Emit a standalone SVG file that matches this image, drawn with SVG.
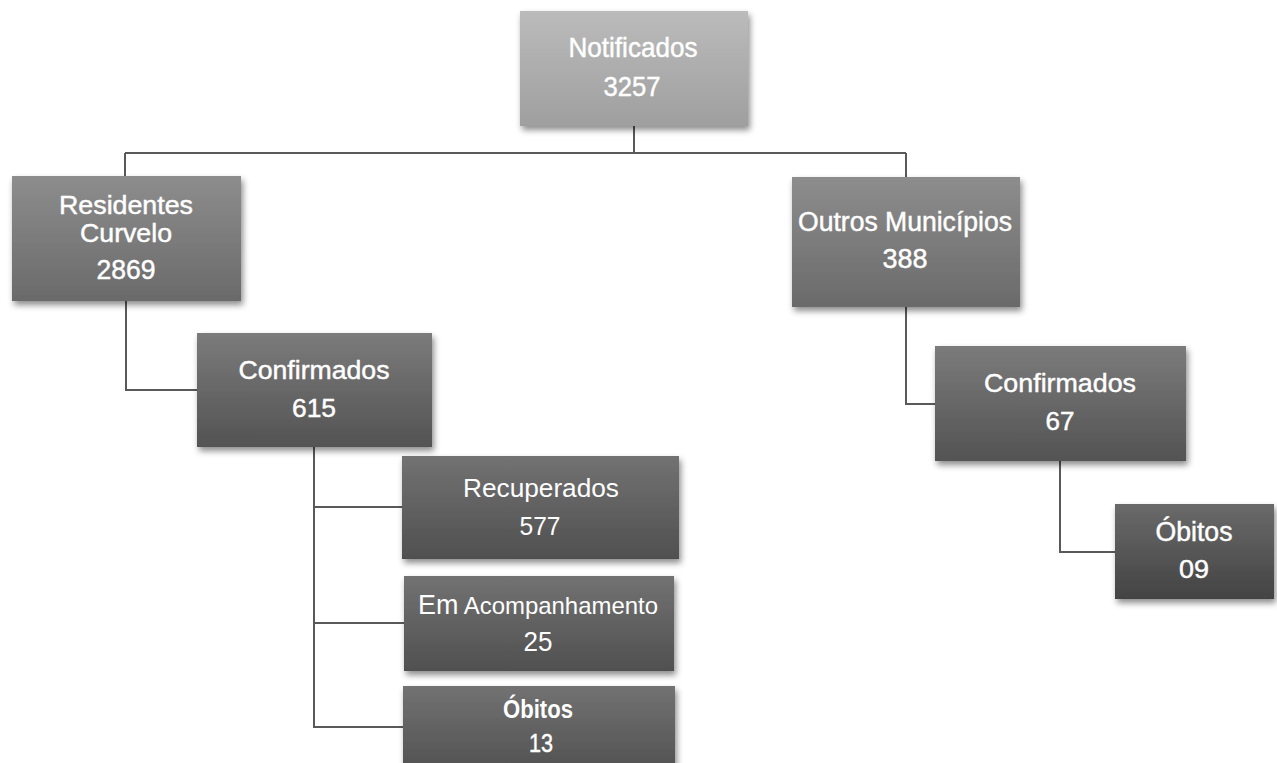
<svg xmlns="http://www.w3.org/2000/svg" width="1277" height="763" viewBox="0 0 1277 763">
<style>
.t{font-family:"Liberation Sans",Arial,sans-serif;fill:#ffffff;text-anchor:middle;}
.m{stroke:#ffffff;stroke-width:0.45;}
.conn{fill:none;stroke:#595959;stroke-width:2;}
.box{filter:url(#sh);}
</style>
<defs>
<filter id="sh" x="-10%" y="-10%" width="125%" height="135%">
<feDropShadow dx="2" dy="4" stdDeviation="3" flood-color="#000" flood-opacity="0.45"/>
</filter>
<linearGradient id="g0" x1="0" y1="0" x2="0" y2="1"><stop offset="0" stop-color="#bbbbbb"/><stop offset="1" stop-color="#9f9f9f"/></linearGradient>
<linearGradient id="g1" x1="0" y1="0" x2="0" y2="1"><stop offset="0" stop-color="#8d8d8d"/><stop offset="1" stop-color="#6a6a6a"/></linearGradient>
<linearGradient id="g2" x1="0" y1="0" x2="0" y2="1"><stop offset="0" stop-color="#7b7b7b"/><stop offset="1" stop-color="#535353"/></linearGradient>
<linearGradient id="g3" x1="0" y1="0" x2="0" y2="1"><stop offset="0" stop-color="#727272"/><stop offset="1" stop-color="#505050"/></linearGradient>
<linearGradient id="g4" x1="0" y1="0" x2="0" y2="1"><stop offset="0" stop-color="#6a6a6a"/><stop offset="1" stop-color="#434343"/></linearGradient>
</defs>
<g id="connectors">
<path class="conn" d="M634 126 V153 M125 153 H906 M125 153 V176 M906 153 V177"/>
<path class="conn" d="M126 301 V390 H197"/>
<path class="conn" d="M314 447 V727 H403 M314 507 H402 M314 623 H404"/>
<path class="conn" d="M906 307 V404 H935"/>
<path class="conn" d="M1060 461 V552 H1115"/>
</g>
<g id="notificados">
<rect class="box" x="520" y="11" width="228" height="115" fill="url(#g0)"/>
<text class="t m" x="633" y="57" font-size="28" textLength="129" lengthAdjust="spacingAndGlyphs">Notificados</text>
<text class="t m" x="632" y="96" font-size="28" textLength="57" lengthAdjust="spacingAndGlyphs">3257</text>
</g>
<g id="residentes">
<rect class="box" x="12" y="176" width="229" height="125" fill="url(#g1)"/>
<text class="t m" x="126" y="214" font-size="26" textLength="134" lengthAdjust="spacingAndGlyphs">Residentes</text>
<text class="t m" x="126" y="242" font-size="26" textLength="92" lengthAdjust="spacingAndGlyphs">Curvelo</text>
<text class="t m" x="126" y="279" font-size="27" textLength="59" lengthAdjust="spacingAndGlyphs">2869</text>
</g>
<g id="confirmados-residentes">
<rect class="box" x="197" y="333" width="235" height="114" fill="url(#g2)"/>
<text class="t m" x="314" y="379" font-size="26" textLength="151" lengthAdjust="spacingAndGlyphs">Confirmados</text>
<text class="t m" x="314" y="417" font-size="26" textLength="44" lengthAdjust="spacingAndGlyphs">615</text>
</g>
<g id="recuperados">
<rect class="box" x="402" y="456" width="277" height="103" fill="url(#g3)"/>
<text class="t" x="541" y="497" font-size="25" textLength="156" lengthAdjust="spacingAndGlyphs">Recuperados</text>
<text class="t" x="540" y="535" font-size="26" textLength="41" lengthAdjust="spacingAndGlyphs">577</text>
</g>
<g id="em-acompanhamento">
<rect class="box" x="404" y="576" width="270" height="95" fill="url(#g3)"/>
<text class="t" x="538" y="614" textLength="240" lengthAdjust="spacingAndGlyphs"><tspan font-size="27">Em</tspan><tspan font-size="24"> Acompanhamento</tspan></text>
<text class="t" x="538" y="651" font-size="27" textLength="29" lengthAdjust="spacingAndGlyphs">25</text>
</g>
<g id="obitos-residentes">
<rect class="box" x="403" y="686" width="272" height="90" fill="url(#g3)"/>
<text class="t" x="538" y="718" font-size="25" font-weight="bold" textLength="70" lengthAdjust="spacingAndGlyphs">Óbitos</text>
<text class="t m" x="541" y="752" font-size="26" textLength="24" lengthAdjust="spacingAndGlyphs">13</text>
</g>
<g id="outros-municipios">
<rect class="box" x="792" y="177" width="228" height="130" fill="url(#g1)"/>
<text class="t m" x="905" y="231" font-size="27" textLength="214" lengthAdjust="spacingAndGlyphs">Outros Municípios</text>
<text class="t m" x="905" y="268" font-size="27" textLength="45" lengthAdjust="spacingAndGlyphs">388</text>
</g>
<g id="confirmados-outros">
<rect class="box" x="935" y="346" width="251" height="115" fill="url(#g2)"/>
<text class="t m" x="1060" y="392" font-size="26" textLength="152" lengthAdjust="spacingAndGlyphs">Confirmados</text>
<text class="t m" x="1060" y="430" font-size="26" textLength="29" lengthAdjust="spacingAndGlyphs">67</text>
</g>
<g id="obitos-outros">
<rect class="box" x="1115" y="504" width="159" height="95" fill="url(#g4)"/>
<text class="t m" x="1194" y="541" font-size="27" textLength="77" lengthAdjust="spacingAndGlyphs">Óbitos</text>
<text class="t m" x="1194" y="578" font-size="26" textLength="30" lengthAdjust="spacingAndGlyphs">09</text>
</g>
</svg>
